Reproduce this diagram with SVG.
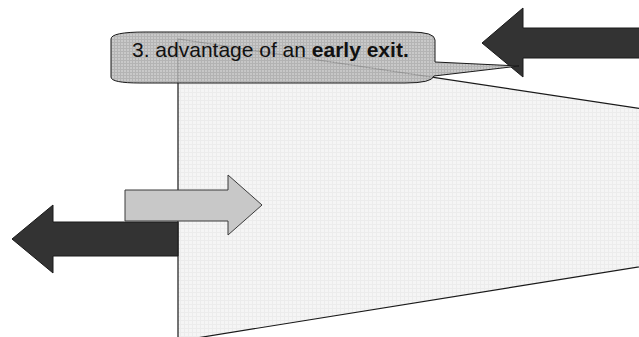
<svg xmlns="http://www.w3.org/2000/svg" width="639" height="337" viewBox="0 0 639 337">
  <style>
    .outline { stroke: #1a1a1a; stroke-width: 1.2; stroke-linejoin: miter; }
    .dark { fill: #333333; stroke: #1a1a1a; stroke-width: 1; }
    .light { fill: #c8c8c8; stroke: #3a3a3a; stroke-width: 1; }
    .label { font-family: "Liberation Sans", Arial, sans-serif; font-size: 21px; fill: #111111; }
  </style>
  <defs>
    <pattern id="paleGrid" width="4" height="4" patternUnits="userSpaceOnUse">
      <rect width="4" height="4" fill="#f5f5f5"/>
      <path d="M0 0.5H4M0.5 0V4" stroke="#ececec" stroke-width="1"/>
    </pattern>
    <pattern id="midGrid" width="3" height="3" patternUnits="userSpaceOnUse">
      <rect width="3" height="3" fill="#c0c0c0"/>
      <path d="M0 0.5H3M0.5 0V3" stroke="#a8a8a8" stroke-width="1"/>
    </pattern>
  </defs>

  <!-- funnel-shaped region -->
  <g id="funnel">
    <polygon points="178,39 650,110 650,265 178,341" fill="url(#paleGrid)"/>
    <polyline points="650,110 178,39 178,341 650,265" fill="none" class="outline"/>
  </g>

  <!-- arrows -->
  <g id="arrow-in-top">
    <polygon class="dark" points="645,28 523,28 523,8 482,43 523,77 523,58 645,58"/>
  </g>
  <g id="arrow-out-left">
    <polygon class="dark" points="178,222 53,222 53,205 12,239 53,273 53,256 178,256"/>
  </g>
  <g id="arrow-in-left">
    <polygon class="light" points="125,190 228,190 228,175 262,205 228,235 228,221 125,221"/>
  </g>

  <!-- callout -->
  <g id="callout">
    <path d="M111,39 Q111,32 145,32 L410,32 Q435,32 435,40 L435,62 L519,66 L434,76 Q432,83 405,83 L140,83 Q111,83 111,77 Z"
          fill="url(#midGrid)" fill-opacity="0.86" stroke="#1a1a1a" stroke-width="1"/>
    <text class="label" x="132" y="57">3. advantage of an <tspan font-weight="bold">early exit.</tspan></text>
  </g>
</svg>
